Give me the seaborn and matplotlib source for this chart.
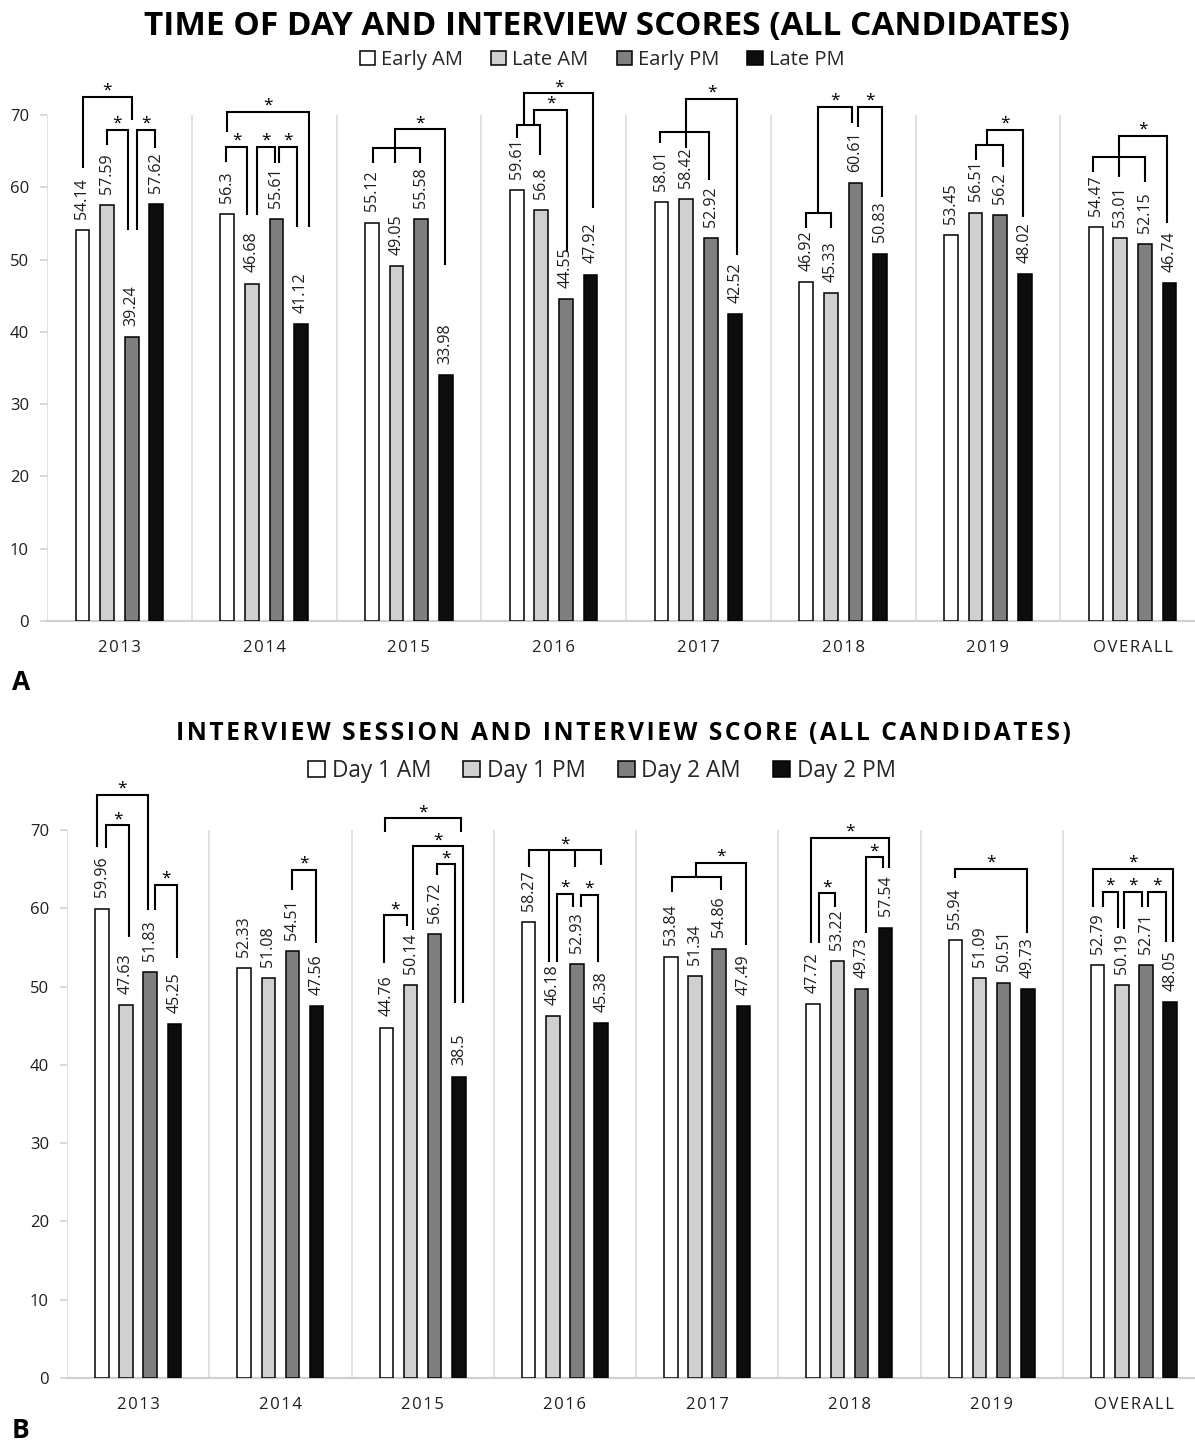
import matplotlib
matplotlib.use("Agg")
import matplotlib.pyplot as plt
from matplotlib.patches import Patch
import seaborn as sns
import pandas as pd

# ---------------- data ----------------
years = ["2013", "2014", "2015", "2016", "2017", "2018", "2019", "OVERALL"]

# Panel A: time of day
sessions_a = ["Early AM", "Late AM", "Early PM", "Late PM"]
early_am = [54.14, 56.3, 55.12, 59.61, 58.01, 46.92, 53.45, 54.47]
late_am = [57.59, 46.68, 49.05, 56.8, 58.42, 45.33, 56.51, 53.01]
early_pm = [39.24, 55.61, 55.58, 44.55, 52.92, 60.61, 56.2, 52.15]
late_pm = [57.62, 41.12, 33.98, 47.92, 42.52, 50.83, 48.02, 46.74]

# Panel B: interview session
sessions_b = ["Day 1 AM", "Day 1 PM", "Day 2 AM", "Day 2 PM"]
day1_am = [59.96, 52.33, 44.76, 58.27, 53.84, 47.72, 55.94, 52.79]
day1_pm = [47.63, 51.08, 50.14, 46.18, 51.34, 53.22, 51.09, 50.19]
day2_am = [51.83, 54.51, 56.72, 52.93, 54.86, 49.73, 50.51, 52.71]
day2_pm = [45.25, 47.56, 38.5, 45.38, 47.49, 57.54, 49.73, 48.05]

# ---------------- significance brackets ----------------
# (group index, [(leg offset in bar slots, leg bottom score), ...], bar height, draw star)
sig_a = [
    (0, [(-1.48, 62.7), (0.51, 69.3)], 72.5, True),
    (0, [(-0.50, 65.8), (0.35, 54.1)], 67.9, True),
    (0, [(0.72, 54.1), (1.45, 65.4)], 67.9, True),
    (1, [(-1.51, 67.6), (1.83, 54.5)], 70.4, True),
    (1, [(-1.55, 63.5), (-0.69, 56.2)], 65.6, True),
    (1, [(-0.29, 56.2), (0.45, 63.3)], 65.6, True),
    (1, [(0.61, 63.3), (1.34, 54.5)], 65.6, True),
    (2, [(-1.45, 63.3), (-0.56, 63.3), (0.46, 63.3)], 65.4, False),
    (2, [(-0.56, 65.4), (1.47, 49.2)], 68.0, True),
    (3, [(-1.48, 66.8), (-0.55, 64.5)], 68.6, False),
    (3, [(-1.20, 68.6), (1.61, 57.1)], 73.0, True),
    (3, [(-0.79, 68.6), (0.55, 51.0)], 70.7, True),
    (4, [(-1.55, 66.1), (-0.49, 65.4), (0.44, 61.0)], 67.6, False),
    (4, [(-0.49, 67.6), (1.58, 50.6)], 72.2, True),
    (5, [(-1.50, 54.4), (-0.48, 54.4)], 56.4, False),
    (5, [(-1.01, 56.4), (0.37, 68.9)], 71.1, True),
    (5, [(0.62, 68.3), (1.59, 58.6)], 71.1, True),
    (6, [(-0.47, 63.8), (0.63, 62.8)], 65.8, False),
    (6, [(-0.02, 65.8), (1.44, 55.9)], 67.9, True),
    (7, [(-1.60, 62.1), (-0.54, 61.4), (0.52, 60.7)], 64.2, False),
    (7, [(-0.54, 64.2), (1.41, 55.0)], 67.1, True),
]
sig_b = [
    (0, [(-1.69, 67.8), (0.40, 59.8)], 74.5, True),
    (0, [(-1.32, 67.7), (-0.37, 56.3)], 70.6, True),
    (0, [(0.69, 59.8), (1.59, 53.6)], 63.0, True),
    (1, [(0.47, 62.3), (1.46, 55.6)], 64.9, True),
    (2, [(-1.55, 69.7), (1.57, 69.7)], 71.5, True),
    (2, [(-0.40, 57.2), (1.69, 47.9)], 67.9, True),
    (2, [(0.58, 64.2), (1.32, 47.9)], 65.6, True),
    (2, [(-1.59, 53.0), (-0.65, 57.7)], 59.1, True),
    (3, [(-1.48, 65.3), (-0.66, 53.1), (0.41, 65.3), (1.51, 65.5)], 67.4, True),
    (3, [(-0.33, 53.1), (0.33, 60.2)], 61.8, True),
    (3, [(0.65, 60.2), (1.35, 53.1)], 61.7, True),
    (4, [(-1.45, 62.1), (0.56, 62.3)], 64.0, False),
    (4, [(-0.47, 64.0), (1.62, 55.3)], 65.8, True),
    (5, [(-1.58, 55.6), (1.65, 65.1)], 69.0, True),
    (5, [(-1.26, 55.6), (-0.60, 60.2)], 61.9, True),
    (5, [(0.67, 56.8), (1.41, 65.1)], 66.5, True),
    (6, [(-1.51, 63.9), (1.48, 56.8)], 65.0, True),
    (7, [(-1.69, 60.2), (1.63, 55.7)], 65.0, True),
    (7, [(-1.29, 60.2), (-0.67, 57.5)], 62.1, True),
    (7, [(-0.42, 57.3), (0.32, 60.2)], 62.1, True),
    (7, [(0.60, 60.2), (1.34, 55.7)], 62.1, True),
]

# ---------------- style ----------------
sns.set_theme(style="white")
FONT = ["Open Sans", "DejaVu Sans"]
plt.rcParams["font.family"] = FONT
TEXT = "#1e1e1e"
GRID = "#d9d9d9"
fills = ["#ffffff", "#d0d0d0", "#7f7f7f", "#0d0d0d"]

GROUP_WIDTH = 0.68
SLOT = GROUP_WIDTH / 4


def spaced(s, sep="\u2009"):
    return sep.join(s)


def long_frame(sessions, series):
    rows = []
    for name, vals in zip(sessions, series):
        for yr, v in zip(years, vals):
            rows.append({"year": yr, "session": name, "score": v})
    return pd.DataFrame(rows)


def draw_bracket(ax, g, legs, top, star):
    xs = [g + u * SLOT for u, _ in legs]
    kw = dict(color="black", lw=1.5, clip_on=False, zorder=5,
              solid_capstyle="butt", solid_joinstyle="miter")
    x0, x1 = xs[0], xs[-1]
    ax.plot([x0, x0, x1, x1], [legs[0][1], top, top, legs[-1][1]], **kw)
    for x, (_, b) in zip(xs[1:-1], legs[1:-1]):
        ax.plot([x, x], [b, top], **kw)
    if star:
        ax.annotate("*", xy=((x0 + x1) / 2, top), xytext=(0, 1.5),
                    textcoords="offset points", ha="center", va="baseline",
                    fontsize=12.5, color="black", annotation_clip=False)


def draw_panel(ax, sessions, series, brackets):
    df = long_frame(sessions, series)
    pal = dict(zip(sessions, fills))
    sns.barplot(data=df, x="year", y="score", hue="session", hue_order=sessions,
                order=years, palette=pal, saturation=1, width=GROUP_WIDTH, gap=0.44,
                edgecolor="black", linewidth=1.1, errorbar=None, legend=False,
                ax=ax, zorder=3)
    for cont, vals in zip(ax.containers, series):
        ax.bar_label(cont, labels=[f"{v:g}" for v in vals], rotation=90,
                     padding=8, fontsize=11.5, color=TEXT)
    ax.set_xlim(-0.5, 7.5)
    ax.set_ylim(0, 70)
    ax.set_yticks(range(0, 71, 10))
    for b in [i - 0.5 for i in range(len(years))]:
        ax.axvline(b, color=GRID, lw=1.1, zorder=1)
    for side in ["top", "right", "left"]:
        ax.spines[side].set_visible(False)
    ax.spines["bottom"].set_color("#d0d0d0")
    ax.spines["bottom"].set_linewidth(1.6)
    ax.tick_params(axis="y", length=5, width=1.1, color="#d0d0d0", pad=8,
                   labelsize=12, labelcolor=TEXT, left=True)
    ax.tick_params(axis="x", length=0, pad=14, labelsize=12, labelcolor=TEXT)
    ax.set_xticks(range(len(years)))
    ax.set_xticklabels([spaced(y, "\u200a") for y in years])
    ax.set_xlabel("")
    ax.set_ylabel("")
    ax.grid(False)
    for g, legs, top, star in brackets:
        draw_bracket(ax, g, legs, top, star)


W, H = 1195, 1452
fig = plt.figure(figsize=(W / 100, H / 100), dpi=100)
ax_a = fig.add_axes([47 / W, 1 - 621 / H, 1158 / W, 506 / H])
ax_b = fig.add_axes([67 / W, 1 - 1378 / H, 1138 / W, 548 / H])

draw_panel(ax_a, sessions_a, [early_am, late_am, early_pm, late_pm], sig_a)
draw_panel(ax_b, sessions_b, [day1_am, day1_pm, day2_am, day2_pm], sig_b)

fig.text(607 / W, 1 - 27 / H, "TIME OF DAY AND INTERVIEW SCORES (ALL CANDIDATES)",
         ha="center", va="center", fontsize=24, fontweight="bold", color="black")
fig.text(623 / W, 1 - 733 / H,
         spaced("INTERVIEW SESSION AND INTERVIEW SCORE (ALL CANDIDATES)", "\u200a"),
         ha="center", va="center", fontsize=17.7, fontweight="bold", color="black")


def legend(sessions, y, size):
    handles = [Patch(facecolor=c, edgecolor="black", linewidth=1.1) for c in fills]
    fig.legend(handles, sessions, loc="center", bbox_to_anchor=(602 / W, 1 - y / H),
               ncol=4, frameon=False, fontsize=size, handlelength=0.75,
               handleheight=0.75, handletextpad=0.3, columnspacing=1.4)


legend(sessions_a, 60, 14.5)
legend(sessions_b, 771, 16.3)

fig.text(12 / W, 1 - 683 / H, "A", ha="left", va="center", fontsize=19,
         fontweight="bold", color="black")
fig.text(12 / W, 1 - 1430 / H, "B", ha="left", va="center", fontsize=19,
         fontweight="bold", color="black")

fig.savefig("out.png", dpi=100)
